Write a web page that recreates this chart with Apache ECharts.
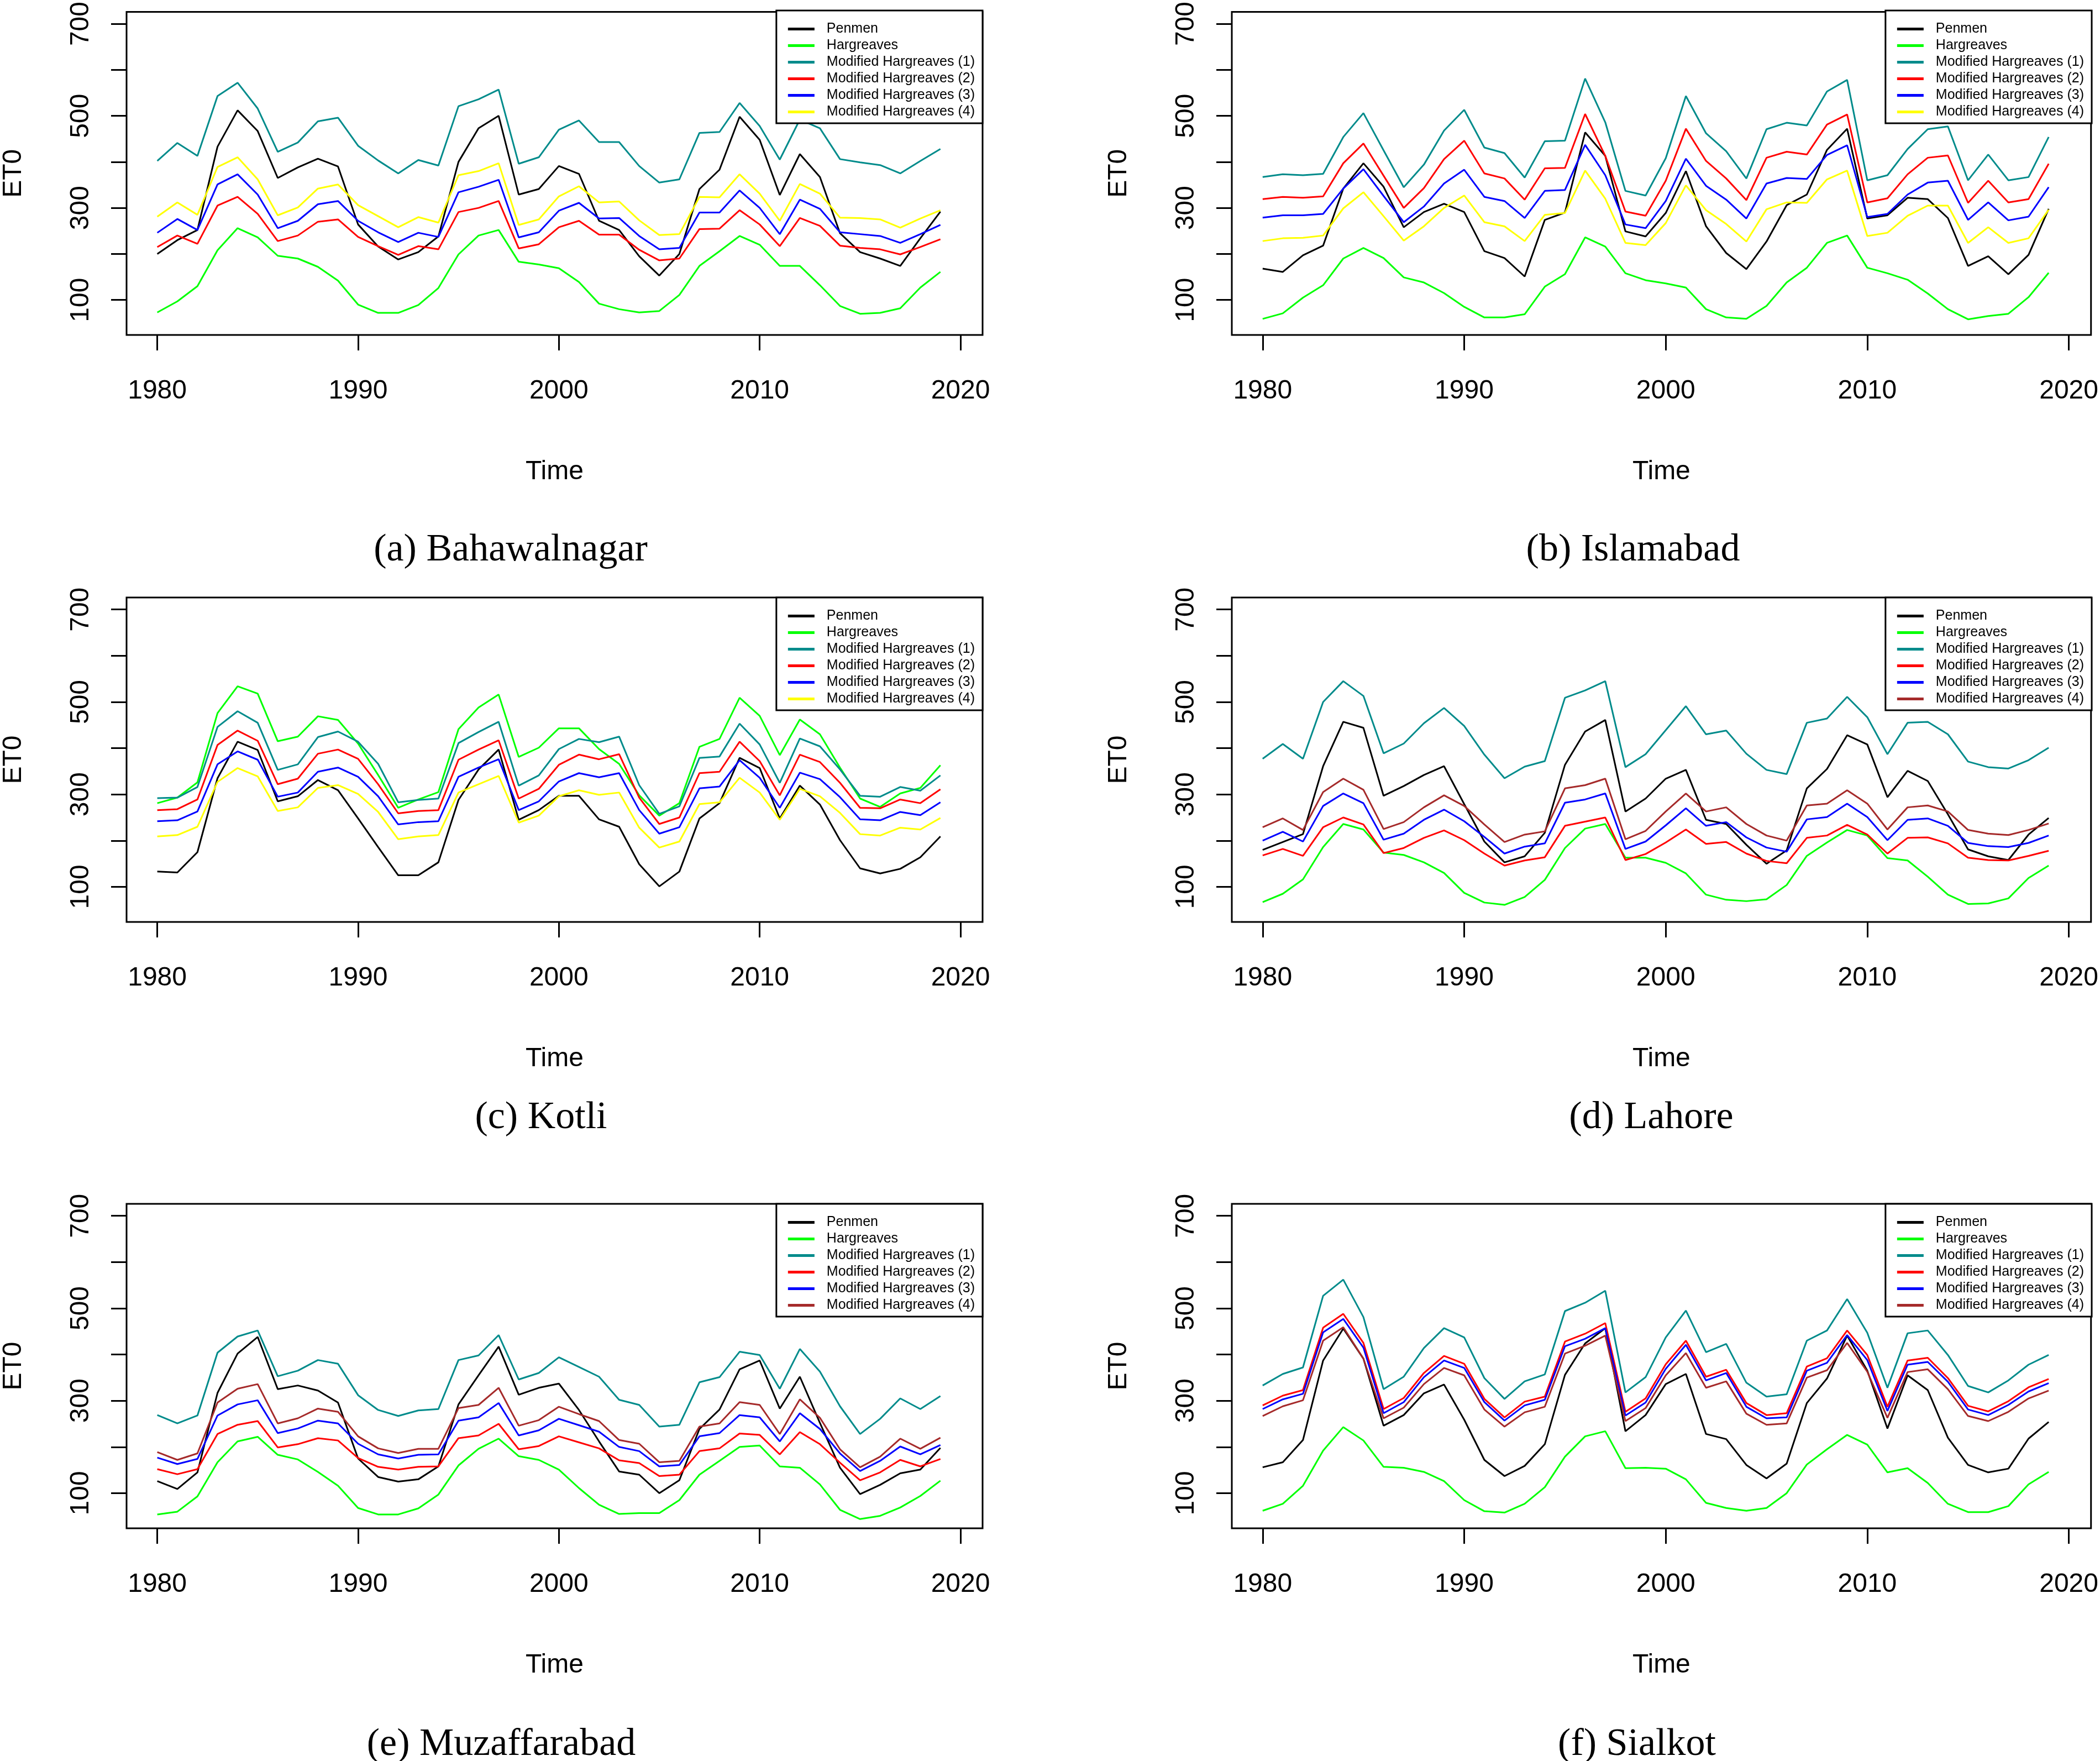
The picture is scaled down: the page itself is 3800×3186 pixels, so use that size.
<!DOCTYPE html>
<html lang="en">
<head>
<meta charset="UTF-8">
<title>ET0 - six stations</title>
<script type="text/javascript" src="https://cdn.jsdelivr.net/npm/echarts@6.0.0/dist/echarts.min.js"></script>
<style>html,body{margin:0;padding:0;background:#fff;}</style>
</head>
<body>
<div id="main" style="width:3800px;height:3186px;"></div>
<script type="text/javascript">
// years on the x axis
var years = [1980,1981,1982,1983,1984,1985,1986,1987,1988,1989,1990,1991,1992,1993,1994,1995,1996,1997,1998,1999,
             2000,2001,2002,2003,2004,2005,2006,2007,2008,2009,2010,2011,2012,2013,2014,2015,2016,2017,2018,2019];
var xTicks = [1980, 1990, 2000, 2010, 2020];
var yTicks = [100, 200, 300, 400, 500, 600, 700];
var yLabels = [100, 300, 500, 700];
var names = ['Penmen', 'Hargreaves', 'Modified Hargreaves (1)', 'Modified Hargreaves (2)', 'Modified Hargreaves (3)', 'Modified Hargreaves (4)'];
var captions = ['(a) Bahawalnagar', '(b) Islamabad', '(c) Kotli', '(d) Lahore', '(e) Muzaffarabad', '(f) Sialkot'];

// (a) Bahawalnagar
var a_pen = [200,230,252,433,512,467,365,388,407,390,264,216,188,204,238,400,473,500,329,341,391,374,272,252,195,153,200,341,383,498,448,328,417,367,245,204,190,174,234,292];
var a_har = [73,97,130,208,256,236,196,190,172,142,90,72,72,89,126,199,240,252,183,177,169,139,92,80,73,76,111,174,206,239,220,174,174,132,87,70,72,82,127,161];
var a_mh1 = [402,441,413,543,572,516,422,442,488,496,435,403,375,404,392,521,536,557,396,410,470,490,443,443,391,355,362,463,465,528,478,405,492,473,406,399,393,375,402,428];
var a_mh2 = [215,240,222,305,324,287,228,240,270,275,237,217,198,217,210,291,300,315,212,221,258,272,242,242,209,186,190,254,255,295,264,217,278,261,218,213,210,199,215,232];
var a_mh3 = [246,276,252,351,373,329,256,272,308,315,272,247,226,246,237,334,346,361,236,247,294,311,277,278,239,210,213,290,290,338,300,243,318,298,247,243,239,224,243,263];
var a_mh4 = [281,312,285,389,410,362,284,301,342,351,306,282,258,280,268,371,380,397,263,275,325,347,312,314,273,241,243,324,323,373,331,272,352,331,279,278,275,257,277,295];

// (b) Islamabad
var b_pen = [168,161,197,218,342,397,346,258,291,309,291,206,191,151,274,290,464,413,249,238,289,380,260,202,167,227,306,329,426,472,277,284,322,319,278,174,195,156,198,298];
var b_har = [59,71,105,132,190,213,191,149,138,115,85,62,62,69,129,156,236,216,158,143,136,127,80,62,59,87,138,170,224,240,170,158,144,114,80,58,65,70,106,159];
var b_mh1 = [367,373,371,374,454,506,425,345,394,468,513,431,419,366,445,446,581,486,337,327,408,543,462,423,364,471,485,479,553,578,360,371,428,471,477,360,416,360,367,454];
var b_mh2 = [319,324,322,325,397,440,370,300,343,406,446,375,364,318,386,387,504,413,292,283,359,472,402,364,317,409,422,416,481,503,312,321,373,409,414,311,359,312,319,396];
var b_mh3 = [279,284,284,287,342,384,326,269,303,353,383,324,315,278,337,339,437,371,264,256,315,407,348,318,277,353,365,363,415,436,280,287,329,355,359,274,312,273,281,345];
var b_mh4 = [228,234,235,240,299,334,282,229,260,300,327,269,260,228,285,289,381,320,224,219,267,349,295,265,227,297,312,311,362,381,239,246,283,305,305,224,258,224,234,296];

// (c) Kotli
var c_pen = [133,131,175,335,414,396,285,296,331,309,248,186,125,125,153,288,354,397,245,266,297,297,246,230,149,101,133,248,281,379,357,248,319,278,201,140,129,139,164,209];
var c_har = [281,293,326,476,534,518,415,425,469,461,410,342,271,289,305,441,488,516,381,401,443,443,398,366,298,254,281,403,420,509,470,385,462,430,358,291,273,302,314,363];
var c_mh1 = [292,293,316,446,480,455,353,365,424,436,414,366,283,288,291,411,435,457,319,341,398,420,413,425,320,258,274,379,382,453,408,325,421,404,354,297,295,316,308,341];
var c_mh2 = [266,268,289,407,438,416,322,334,388,397,377,322,259,264,266,375,397,417,291,312,364,386,376,387,293,236,250,346,349,414,372,298,386,370,325,271,270,289,281,311];
var c_mh3 = [242,244,263,365,393,375,295,304,349,358,338,296,235,240,242,338,358,376,266,285,328,346,337,346,266,215,229,313,317,374,336,271,347,333,294,246,244,262,255,283];
var c_mh4 = [209,212,230,327,357,339,264,272,314,320,301,262,203,209,212,304,322,340,239,254,296,309,299,304,228,185,198,279,283,336,304,245,312,296,260,214,211,228,224,249];

// (d) Lahore
var d_pen = [180,197,214,361,457,444,297,318,342,361,279,198,153,166,217,364,436,461,263,291,334,353,245,236,191,150,179,313,355,428,408,294,351,329,257,181,166,158,213,249];
var d_har = [67,85,116,186,236,224,174,169,153,130,87,66,61,78,115,184,226,236,163,163,152,129,83,72,69,73,104,167,196,223,211,162,157,122,83,63,64,75,119,146];
var d_mh1 = [377,409,377,500,545,513,389,410,454,487,448,386,335,360,372,509,525,545,359,387,439,491,430,438,388,353,344,455,464,511,467,387,455,457,430,371,359,356,374,401];
var d_mh2 = [168,182,167,229,250,235,173,184,206,222,201,172,146,157,164,232,241,250,158,171,196,224,193,197,172,156,151,206,211,234,213,172,206,207,194,163,158,157,167,178];
var d_mh3 = [200,219,198,275,302,281,202,215,245,267,242,208,172,187,194,282,289,302,182,198,233,270,232,240,207,185,176,246,251,280,251,201,245,248,232,195,188,186,195,211];
var d_mh4 = [229,248,223,305,334,310,225,240,272,298,275,235,197,213,220,313,320,334,203,221,263,302,263,272,236,211,200,276,280,309,280,224,272,276,263,223,215,212,223,237];

// (e) Muzaffarabad
var e_pen = [126,109,145,317,402,438,325,333,322,296,175,135,125,130,158,292,355,417,313,328,337,280,212,147,140,100,128,239,281,368,387,283,352,252,155,98,118,143,151,198];
var e_har = [54,60,93,167,212,222,183,173,146,116,68,54,54,67,97,160,196,218,180,172,151,111,75,55,57,57,85,140,170,200,203,158,155,119,64,44,51,69,94,127];
var e_mh1 = [269,251,268,404,439,452,353,365,388,380,312,280,267,279,282,388,398,442,346,360,394,373,352,302,291,244,248,340,351,406,399,326,412,363,288,228,261,305,282,310];
var e_mh2 = [152,141,152,228,248,256,199,206,219,214,176,157,151,157,158,219,225,250,195,202,223,210,197,171,165,137,140,191,197,229,226,184,232,206,166,128,145,172,158,174];
var e_mh3 = [177,163,174,268,292,301,230,240,257,251,207,184,175,183,184,257,264,295,225,236,261,247,233,200,191,158,161,223,230,269,264,212,273,239,186,148,170,201,184,204];
var e_mh4 = [189,172,186,296,326,336,251,262,283,276,223,197,187,196,196,284,291,328,246,258,287,271,256,215,207,167,170,244,251,297,291,228,303,263,195,156,179,218,196,220];

// (f) Sialkot
var f_pen = [156,167,215,387,456,391,246,269,316,335,259,172,137,159,206,356,424,457,234,269,336,358,228,217,161,132,164,295,348,441,365,240,355,323,220,161,145,153,218,254];
var f_har = [62,77,116,192,243,214,157,155,146,126,85,61,58,77,113,179,223,234,154,155,153,130,79,68,62,68,100,162,195,226,205,145,154,122,77,59,59,72,119,146];
var f_mh1 = [333,358,372,527,562,481,325,352,414,457,437,349,304,342,357,494,512,538,318,351,437,495,405,423,339,309,314,430,452,520,447,328,446,452,399,332,318,344,378,399];
var f_mh2 = [290,311,323,458,488,425,282,306,360,397,380,304,264,298,309,428,445,468,276,305,379,430,352,367,295,269,273,374,392,452,399,287,387,393,349,289,277,299,329,347];
var f_mh3 = [282,303,315,448,477,415,273,297,351,387,371,297,257,290,302,418,434,457,268,296,369,421,344,360,287,262,264,365,382,442,388,278,378,384,341,281,269,291,320,338];
var f_mh4 = [267,288,301,430,459,391,262,285,336,371,355,281,244,275,287,402,419,441,256,284,355,403,328,342,272,248,251,350,366,425,363,263,362,368,325,267,256,276,305,322];

var stations = [
	[a_pen, a_har, a_mh1, a_mh2, a_mh3, a_mh4],
	[b_pen, b_har, b_mh1, b_mh2, b_mh3, b_mh4],
	[c_pen, c_har, c_mh1, c_mh2, c_mh3, c_mh4],
	[d_pen, d_har, d_mh1, d_mh2, d_mh3, d_mh4],
	[e_pen, e_har, e_mh1, e_mh2, e_mh3, e_mh4],
	[f_pen, f_har, f_mh1, f_mh2, f_mh3, f_mh4]
];

// R colours: black, green, cyan4, red, blue, yellow (a-c) / brown (d-f)
var colorsTop = ['#000000', '#00ff00', '#008b8b', '#ff0000', '#0000ff', '#ffff00'];
var colorsBottom = ['#000000', '#00ff00', '#008b8b', '#ff0000', '#0000ff', '#a52a2a'];

// panel layout in pixels
var plotLeft = [222, 2229];
var plotTop = [19, 1081, 2178];
var plotW = 1556, plotH = 587;
var capX = [924, 2955, 979, 2988, 907, 2962];
var capY = [999, 999, 2026, 2026, 3160, 3160];

var FONT = 'Liberation Sans, Arial, Helvetica, sans-serif';

function yearLabel(v) { return String(v); }

function buildOption() {
	var grids = [], xAxes = [], yAxes = [], series = [], legends = [], titles = [];

	for (var p = 0; p < 6; p++) {
		var col = p % 2, row = Math.floor(p / 2);
		var gx = plotLeft[col], gy = plotTop[row];
		var colors = p < 3 ? colorsTop : colorsBottom;

		grids.push({
			left: gx, top: gy, width: plotW, height: plotH,
			show: true, borderColor: '#000', borderWidth: 3
		});

		xAxes.push({
			type: 'value', gridIndex: p,
			min: 1978.47, max: 2021.1,
			name: 'Time', nameLocation: 'middle', nameGap: 224,
			nameTextStyle: {fontFamily: FONT, fontSize: 48, color: '#000'},
			axisLine: {show: false},
			axisTick: {show: true, length: 28, customValues: xTicks, lineStyle: {color: '#000', width: 3}},
			axisLabel: {customValues: xTicks, formatter: yearLabel, margin: 78, fontFamily: FONT, fontSize: 48, color: '#000'},
			splitLine: {show: false}
		});

		yAxes.push({
			type: 'value', gridIndex: p,
			min: 24, max: 726,
			name: 'ET0', nameLocation: 'middle', nameGap: 180,
			nameTextStyle: {fontFamily: FONT, fontSize: 48, color: '#000'},
			axisLine: {show: false},
			axisTick: {show: true, length: 28, customValues: yTicks, lineStyle: {color: '#000', width: 3}},
			axisLabel: {customValues: yLabels, rotate: 90, margin: 58, fontFamily: FONT, fontSize: 48, color: '#000'},
			splitLine: {show: false}
		});

		var legendData = [];
		for (var s = 0; s < 6; s++) {
			var vals = stations[p][s];
			var pts = [];
			for (var i = 0; i < years.length; i++) {
				pts.push([years[i], vals[i]]);
			}
			series.push({
				name: names[s], type: 'line',
				xAxisIndex: p, yAxisIndex: p,
				data: pts,
				symbol: 'none', silent: true,
				lineStyle: {color: colors[s], width: 3},
				itemStyle: {color: colors[s]}
			});
			legendData.push({
				name: names[s],
				icon: 'rect',
				itemStyle: {color: colors[s], borderWidth: 0}
			});
		}

		legends.push({
			orient: 'vertical',
			right: 3800 - (gx + plotW), top: gy,
			data: legendData,
			selectedMode: false,
			itemWidth: 48, itemHeight: 5, itemGap: 5,
			padding: [21, 14, 8, 21],
			borderColor: '#000', borderWidth: 3, backgroundColor: '#fff',
			textStyle: {fontFamily: FONT, fontSize: 25, lineHeight: 25, color: '#000', padding: [0, 0, 0, 17]}
		});

		titles.push({
			text: captions[p],
			left: capX[p], top: capY[p] - 38,
			textAlign: 'center', padding: 0,
			textStyle: {fontFamily: 'Liberation Serif, Times New Roman, serif', fontSize: 70, fontWeight: 'normal', color: '#000'}
		});
	}

	return {
		animation: false,
		backgroundColor: '#fff',
		title: titles,
		legend: legends,
		grid: grids,
		xAxis: xAxes,
		yAxis: yAxes,
		series: series
	};
}

var myChart = echarts.init(document.getElementById('main'));
myChart.setOption(buildOption());
</script>
</body>
</html>
